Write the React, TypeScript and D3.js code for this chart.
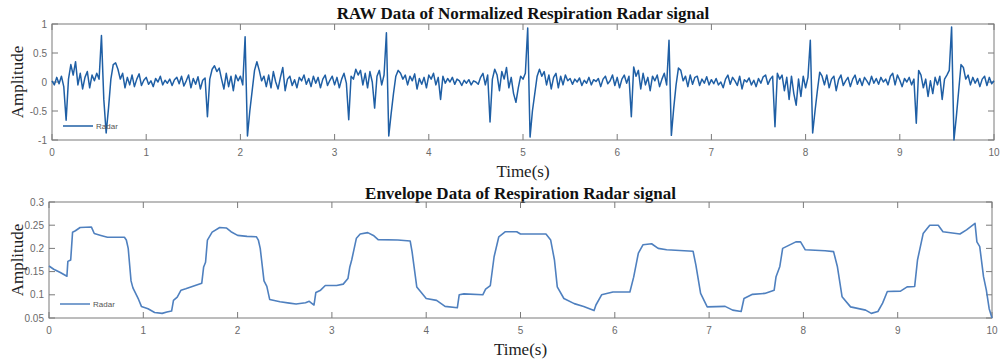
import React from 'react';
import * as d3 from 'd3';

// x axis (seconds)
const timeTicks = [0, 1, 2, 3, 4, 5, 6, 7, 8, 9, 10];
const rawTicks = [-1, -0.5, 0, 0.5, 1];
const rawTickLabels = ['-1', '-0.5', '0', '0.5', '1'];
const envTicks = [0.05, 0.1, 0.15, 0.2, 0.25, 0.3];
const envTickLabels = ['0.05', '0.1', '0.15', '0.2', '0.25', '0.3'];

// raw radar signal, one sample every 0.025 s
const rawStep = 0.025;
const rawValues = [
  0.02, -0.05, 0.08, -0.03, 0.1, -0.08, -0.66, 0.05, 0.3, 0.12, 0.35, -0.05, 0.15, -0.12, 0.08, 0.18, -0.1, 0.12, 0.02, 0.15,
  0.05, 0.8, -0.3, -0.88, -0.45, 0.05, 0.3, 0.33, 0.22, 0.05, 0.15, -0.1, 0.08, -0.05, 0.12, -0.08, 0.05, 0.14, -0.06, 0.03,
  0.08, -0.04, 0.02, -0.08, 0.06, 0.0, 0.1, -0.05, 0.03, -0.02, 0.05, -0.06, 0.04, 0.08, -0.03, 0.1, -0.07, 0.02, 0.12, -0.1,
  0.06, -0.04, 0.09, -0.12, 0.03, 0.07, -0.6, 0.05, 0.22, 0.28, 0.18, 0.24, 0.05, -0.12, 0.15, -0.08, 0.1, -0.15, 0.12, 0.02,
  0.1, -0.05, 0.78, -0.93, -0.5, -0.15, 0.2, 0.35, 0.2, 0.02, 0.1, -0.08, 0.12, -0.1, 0.18, 0.0, -0.12, 0.08, 0.25, -0.15,
  0.05, 0.1, -0.06, 0.04, -0.1, 0.08, 0.02, 0.12, -0.04, 0.06, -0.08, 0.1, -0.02, 0.08, -0.1, 0.05, 0.12, -0.06, 0.03, 0.1,
  -0.05, 0.08, -0.1, 0.05, 0.15, -0.02, -0.65, 0.1, 0.05, 0.22, 0.12, 0.2, -0.05, 0.15, -0.1, 0.18, 0.0, -0.45, 0.1, 0.2,
  -0.05, 0.12, 0.85, -0.93, -0.55, -0.2, 0.1, 0.2, 0.15, 0.05, 0.12, -0.05, 0.1, 0.02, 0.14, -0.12, 0.06, -0.04, 0.08, -0.1,
  0.12, 0.05, 0.15, -0.05, 0.08, -0.3, 0.1, -0.02, 0.06, 0.0, 0.08, -0.04, 0.05, 0.02, -0.06, 0.03, -0.02, 0.04, -0.05, 0.02,
  0.0, -0.04, 0.08, 0.15, -0.05, 0.12, -0.69, 0.05, 0.22, 0.12, -0.15, 0.18, 0.05, 0.25, -0.1, 0.08, -0.2, -0.35, -0.1, 0.1,
  0.05, 0.15, 0.93, -0.95, -0.5, -0.2, 0.1, 0.22, 0.1, 0.18, -0.05, 0.12, -0.12, 0.08, 0.15, -0.1, 0.1, -0.05, 0.12, 0.02,
  0.06, -0.04, 0.05, 0.0, 0.07, -0.06, 0.03, -0.02, 0.08, -0.05, 0.04, 0.01, 0.06, -0.08, 0.05, 0.1, -0.03, 0.02, 0.12, -0.06,
  0.08, -0.1, 0.05, 0.12, -0.02, 0.1, -0.6, 0.26, 0.1, 0.2, -0.12, 0.15, -0.05, 0.08, -0.15, 0.1, 0.02, 0.12, -0.08, 0.05,
  0.15, -0.05, 0.72, -0.92, -0.45, -0.05, 0.24, 0.2, 0.02, 0.1, -0.08, 0.12, -0.04, 0.08, 0.1, -0.06, 0.05, -0.02, 0.09, -0.05,
  0.04, -0.03, 0.06, -0.05, 0.0, -0.1, 0.05, 0.12, -0.04, 0.08, 0.02, -0.06, 0.1, -0.12, 0.04, 0.0, 0.07, -0.05, 0.03, -0.08,
  0.06, -0.02, 0.09, 0.12, -0.04, 0.05, 0.1, -0.77, 0.15, 0.05, 0.12, -0.15, 0.08, -0.3, 0.1, -0.2, -0.4, 0.05, -0.25, 0.1,
  -0.1, 0.08, 0.72, -0.88, -0.5, -0.15, 0.17, 0.1, -0.05, 0.12, -0.1, 0.05, 0.1, -0.15, 0.04, 0.12, -0.06, 0.02, 0.08, -0.08,
  0.05, 0.12, -0.04, 0.06, -0.06, 0.08, 0.02, -0.05, 0.1, -0.02, 0.06, -0.04, 0.08, 0.0, 0.05, -0.05, 0.1, 0.15, -0.05, 0.12,
  0.03, -0.08, 0.06, 0.0, 0.08, -0.05, 0.05, -0.71, 0.2, 0.12, -0.1, 0.05, -0.25, 0.02, -0.2, 0.08, -0.05, 0.1, -0.3, 0.05,
  0.12, 0.2, 0.95, -1.0, -0.6, -0.15, 0.3, 0.25, 0.05, 0.12, -0.05, 0.08, -0.02, 0.06, -0.08, 0.05, 0.1, -0.06, 0.08, -0.03,
  0.02,
];

// envelope breakpoints
const envTimes = [
  0, 0.05, 0.12, 0.19, 0.2, 0.23, 0.25, 0.28, 0.33, 0.45, 0.48, 0.55, 0.62, 0.8, 0.82, 0.84, 0.87, 0.89, 0.95, 0.98,
  1.05, 1.12, 1.2, 1.25, 1.3, 1.32, 1.36, 1.4, 1.45, 1.55, 1.62, 1.64, 1.66, 1.68, 1.73, 1.81, 1.88, 1.93, 2.0, 2.1,
  2.2, 2.22, 2.24, 2.28, 2.31, 2.34, 2.45, 2.55, 2.62, 2.72, 2.76, 2.81, 2.83, 2.88, 2.93, 3.05, 3.12, 3.17, 3.19, 3.21,
  3.26, 3.3, 3.38, 3.44, 3.49, 3.7, 3.83, 3.85, 3.9, 4.0, 4.11, 4.2, 4.33, 4.35, 4.4, 4.6, 4.63, 4.68, 4.72, 4.77,
  4.84, 4.96, 5.0, 5.27, 5.32, 5.36, 5.39, 5.46, 5.57, 5.67, 5.78, 5.8, 5.86, 5.98, 6.16, 6.2, 6.25, 6.3, 6.39, 6.46,
  6.55, 6.83, 6.86, 6.91, 6.98, 7.17, 7.25, 7.34, 7.37, 7.46, 7.59, 7.69, 7.71, 7.75, 7.78, 7.85, 7.92, 7.97, 8.02, 8.23,
  8.32, 8.36, 8.41, 8.5, 8.66, 8.72, 8.79, 8.84, 8.89, 9.03, 9.1, 9.18, 9.21, 9.27, 9.34, 9.43, 9.48, 9.66, 9.73, 9.82,
  9.84, 9.87, 9.91, 9.94, 9.97, 10,
];
const envValues = [
  0.162, 0.155, 0.148, 0.14, 0.172, 0.175, 0.235, 0.238, 0.245, 0.246, 0.232, 0.228, 0.224, 0.224, 0.218, 0.2, 0.13, 0.115, 0.09, 0.075,
  0.07, 0.062, 0.06, 0.063, 0.065, 0.088, 0.095, 0.11, 0.113, 0.12, 0.125, 0.16, 0.17, 0.218, 0.235, 0.245, 0.244, 0.236, 0.228, 0.226,
  0.225, 0.218, 0.2, 0.13, 0.118, 0.09, 0.085, 0.082, 0.08, 0.083, 0.086, 0.078, 0.105, 0.11, 0.12, 0.12, 0.123, 0.135, 0.16, 0.175,
  0.222, 0.231, 0.234, 0.228, 0.219, 0.218, 0.216, 0.193, 0.117, 0.092, 0.088, 0.075, 0.072, 0.1, 0.102, 0.1, 0.112, 0.12, 0.182, 0.225,
  0.236, 0.236, 0.231, 0.231, 0.218, 0.175, 0.117, 0.092, 0.081, 0.075, 0.066, 0.078, 0.1, 0.106, 0.106, 0.138, 0.19, 0.208, 0.21, 0.2,
  0.197, 0.194, 0.164, 0.103, 0.074, 0.075, 0.067, 0.064, 0.092, 0.101, 0.103, 0.11, 0.139, 0.161, 0.2, 0.207, 0.214, 0.214, 0.197, 0.195,
  0.193, 0.161, 0.096, 0.074, 0.067, 0.06, 0.064, 0.082, 0.107, 0.108, 0.117, 0.118, 0.175, 0.232, 0.25, 0.25, 0.236, 0.231, 0.24, 0.254,
  0.214, 0.204, 0.139, 0.11, 0.07, 0.05,
];

const rawData: [number, number][] = rawValues.map((v, i) => [i * rawStep, v]);
const envData: [number, number][] = envTimes.map((t, i) => [t, envValues[i]]);

const AXIS = '#7a7a7a';
const TICK_TEXT = '#6a6a6a';
const SERIF = '"Liberation Serif", "Times New Roman", serif';
const SANS = '"Liberation Sans", Arial, sans-serif';

type PanelProps = {
  left: number; right: number; top: number; bottom: number;
  yDomain: [number, number]; yTicks: number[]; yLabels: string[];
  data: [number, number][]; color: string; width: number;
  title: string; titleY: number; xLabelY: number;
};

function Panel(p: PanelProps) {
  const x = d3.scaleLinear().domain([0, 10]).range([p.left, p.right]);
  const y = d3.scaleLinear().domain(p.yDomain).range([p.bottom, p.top]);
  const line = d3.line<[number, number]>().x(d => x(d[0])).y(d => y(d[1]));
  const tl = 6;
  const cx = (p.left + p.right) / 2;
  const legY = p.bottom - 14;
  return (
    <g>
      <text x={cx} y={p.titleY} textAnchor="middle" fontFamily={SERIF} fontWeight="bold" fontSize={17} fill="#111">{p.title}</text>
      <rect x={p.left} y={p.top} width={p.right - p.left} height={p.bottom - p.top} fill="none" stroke={AXIS} strokeWidth={1} />
      {timeTicks.map(t => (
        <g key={'x' + t}>
          <line x1={x(t)} x2={x(t)} y1={p.bottom} y2={p.bottom - tl} stroke={AXIS} />
          <line x1={x(t)} x2={x(t)} y1={p.top} y2={p.top + tl} stroke={AXIS} />
          <text x={x(t)} y={p.bottom + 16} textAnchor="middle" fontFamily={SANS} fontSize={10} fill={TICK_TEXT}>{t}</text>
        </g>
      ))}
      {p.yTicks.map((v, i) => (
        <g key={'y' + v}>
          <line x1={p.left} x2={p.left + tl} y1={y(v)} y2={y(v)} stroke={AXIS} />
          <line x1={p.right} x2={p.right - tl} y1={y(v)} y2={y(v)} stroke={AXIS} />
          <text x={p.left - 5} y={y(v) + 3.5} textAnchor="end" fontFamily={SANS} fontSize={10} fill={TICK_TEXT}>{p.yLabels[i]}</text>
        </g>
      ))}
      <path d={line(p.data) || ''} fill="none" stroke={p.color} strokeWidth={p.width} strokeLinejoin="round" />
      <line x1={p.left + 11} x2={p.left + 41} y1={legY} y2={legY} stroke={p.color} strokeWidth={1.5} />
      <text x={p.left + 44} y={legY + 3} fontFamily={SANS} fontSize={8} fill="#555">Radar</text>
      <text x={cx} y={p.xLabelY} textAnchor="middle" fontFamily={SERIF} fontSize={17} fill="#222">Time(s)</text>
      <text transform={`translate(23,${(p.top + p.bottom) / 2}) rotate(-90)`} textAnchor="middle" fontFamily={SERIF} fontSize={17} fill="#222">Amplitude</text>
    </g>
  );
}

export default function App() {
  return (
    <div style={{ position: 'absolute', left: 0, top: 0 }}>
      <svg width={1006} height={362} style={{ display: 'block', background: '#fff' }}>
        <Panel left={52} right={994} top={24} bottom={140} yDomain={[-1, 1]} yTicks={rawTicks} yLabels={rawTickLabels}
          data={rawData} color="#1f5fa5" width={1.5}
          title="RAW Data of Normalized Respiration Radar signal" titleY={19} xLabelY={177} />
        <Panel left={49} right={992} top={202} bottom={318} yDomain={[0.05, 0.3]} yTicks={envTicks} yLabels={envTickLabels}
          data={envData} color="#4f80bf" width={1.6}
          title="Envelope Data of Respiration Radar signal" titleY={199} xLabelY={355} />
      </svg>
    </div>
  );
}
